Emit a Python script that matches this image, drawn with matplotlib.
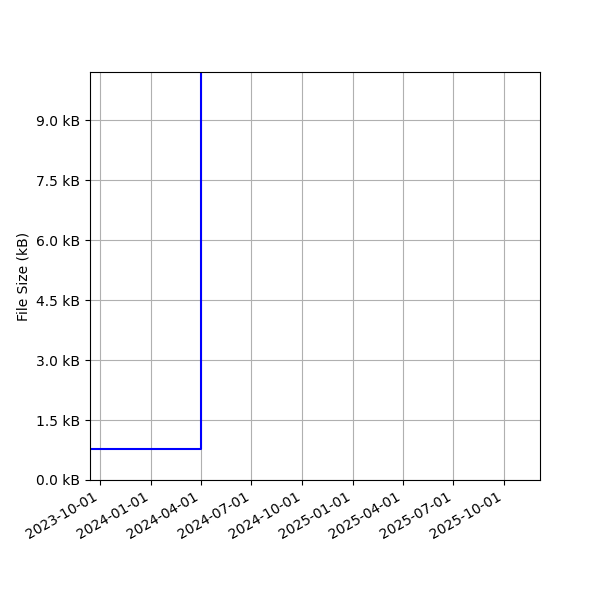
import numpy as np
import pandas as pd
import matplotlib
matplotlib.use("Agg")
import matplotlib.pyplot as plt
import matplotlib.dates as mdates
from matplotlib.ticker import MultipleLocator, FuncFormatter

# file size history (bytes)
dates = pd.to_datetime(["2023-09-01", "2024-04-01", "2025-12-31"])
sizes = [775, 48000, 48000]

fig, ax = plt.subplots(figsize=(6, 6), dpi=100)
ax.plot(dates, sizes, color="blue", drawstyle="steps-post")

ax.set_xlim(pd.Timestamp("2023-09-13"), pd.Timestamp("2025-12-05"))
ax.set_ylim(0, 10200)
ax.yaxis.set_major_locator(MultipleLocator(1500))
ax.yaxis.set_major_formatter(FuncFormatter(lambda v, p: f"{v/1000:.1f} kB"))
ax.xaxis.set_major_locator(mdates.MonthLocator(bymonth=[1, 4, 7, 10]))
ax.xaxis.set_major_formatter(mdates.DateFormatter("%Y-%m-%d"))
ax.set_ylabel("File Size (kB)")
ax.grid(True)

fig.autofmt_xdate()
fig.subplots_adjust(left=0.15, right=0.9, top=0.88, bottom=0.2)
fig.savefig("out.png")
